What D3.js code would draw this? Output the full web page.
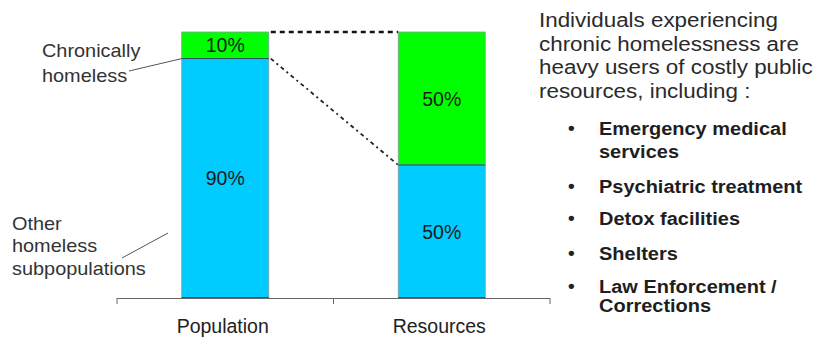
<!DOCTYPE html>
<html><head><meta charset="utf-8">
<script src="https://cdn.jsdelivr.net/npm/d3@7"></script>
<style>
body{margin:0;background:#fff;}
svg{display:block;font-family:"Liberation Sans",Arial,sans-serif;}
</style></head>
<body>
<svg id="c" width="819" height="337"></svg>
<script>
const categories = ["Population", "Resources"];
const otherValues = [90, 50];
const chronicValues = [10, 50];
const seriesNames = ["Other homeless subpopulations", "Chronically homeless"];
const headline = ["Individuals experiencing", "chronic homelessness are", "heavy users of costly public", "resources, including :"];
const bullets = [["Emergency medical", "services"], ["Psychiatric treatment"], ["Detox facilities"], ["Shelters"], ["Law Enforcement /", "Corrections"]];

const svg = d3.select("#c");
const x = d3.scaleBand().domain(categories).range([117, 550]).paddingInner(0.598).paddingOuter(0.299);
const y = d3.scaleLinear().domain([0, 100]).range([298, 32]);
const colors = ["#00ccff", "#00ff00"];

const data = categories.map((c, i) => ({cat: c, other: otherValues[i], chronic: chronicValues[i]}));
const stack = d3.stack().keys(["other", "chronic"])(data);

// connector lines
const xr0 = x(categories[0]) + x.bandwidth();
const xl1 = x(categories[1]);
svg.append("line").attr("x1", xr0 + 2).attr("x2", xl1)
  .attr("y1", y(100)).attr("y2", y(100))
  .attr("stroke", "#111").attr("stroke-width", 2.4).attr("stroke-dasharray", "5,4");
svg.append("line").attr("x1", xr0 + 2).attr("x2", xl1)
  .attr("y1", y(otherValues[0])).attr("y2", y(otherValues[1]))
  .attr("stroke", "#222").attr("stroke-width", 1.8).attr("stroke-dasharray", "4,3.5,2,3.5");

// bars
stack.forEach((s, si) => {
  svg.append("g").selectAll("rect").data(s).join("rect")
    .attr("x", d => x(d.data.cat))
    .attr("width", x.bandwidth())
    .attr("y", d => y(d[1]))
    .attr("height", d => y(d[0]) - y(d[1]))
    .attr("fill", colors[si])
    .attr("stroke", "#8a9aa0").attr("stroke-width", 0.8);
  svg.append("g").selectAll("text").data(s).join("text")
    .attr("x", d => x(d.data.cat) + x.bandwidth() / 2)
    .attr("y", d => (y(d[0]) + y(d[1])) / 2)
    .attr("dy", "0.36em")
    .attr("text-anchor", "middle")
    .attr("font-size", 19.5).attr("fill", "#1a1a1a")
    .text(d => (d[1] - d[0]) + "%");
});
// dark segment boundaries
svg.append("g").selectAll("line").data(data).join("line")
  .attr("x1", d => x(d.cat)).attr("x2", d => x(d.cat) + x.bandwidth())
  .attr("y1", d => y(d.other)).attr("y2", d => y(d.other))
  .attr("stroke", "#2a4a60").attr("stroke-width", 1);
svg.append("g").selectAll("line").data(data).join("line")
  .attr("x1", d => x(d.cat)).attr("x2", d => x(d.cat) + x.bandwidth())
  .attr("y1", y(0)).attr("y2", y(0))
  .attr("stroke", "#1a3a6a").attr("stroke-width", 1.5);

// axis
const axisG = svg.append("g");
axisG.append("line").attr("x1", 117).attr("x2", 550).attr("y1", 298.5).attr("y2", 298.5)
  .attr("stroke", "#666").attr("stroke-width", 1.2);
const tickXs = [x.range()[0], (x(categories[0]) + x.bandwidth() + x(categories[1])) / 2, x.range()[1]];
axisG.selectAll("line.t").data(tickXs).join("line").attr("class", "t")
  .attr("x1", d => d).attr("x2", d => d).attr("y1", 298).attr("y2", 304)
  .attr("stroke", "#666").attr("stroke-width", 1);
axisG.selectAll("text").data(categories).join("text")
  .attr("x", d => x(d) + x.bandwidth() / 2 - 2.5)
  .attr("y", 333)
  .attr("text-anchor", "middle").attr("font-size", 19.5).attr("fill", "#222")
  .text(d => d);

// stretched multi-line text
function multi(lines, x0, ys, size, sx, weight, fill) {
  const t = svg.append("text").attr("transform", `translate(${x0},0) scale(${sx},1)`)
    .attr("font-size", size).attr("fill", fill || "#333").attr("font-weight", weight || "normal");
  lines.forEach((l, i) => t.append("tspan").attr("x", 0).attr("y", ys[i]).text(l));
  return t;
}
multi(["Chronically", "homeless"], 42, [57, 82], 18.6, 1.07);
svg.append("line").attr("x1", 129).attr("y1", 71).attr("x2", x(categories[0])).attr("y2", y(otherValues[0]))
  .attr("stroke", "#555").attr("stroke-width", 1);
multi(["Other", "homeless", "subpopulations"], 12, [230, 252.5, 275], 18.6, 1.07);
svg.append("line").attr("x1", 122).attr("y1", 258).attr("x2", 168).attr("y2", 233)
  .attr("stroke", "#555").attr("stroke-width", 1);

// right text
multi(headline, 539, [27, 51, 74.5, 98.5], 19.3, 1.16, "normal", "#2a2a2a");
const bulletYs = [[135, 158], [193], [225], [260], [293, 312]];
bullets.forEach((b, i) => {
  svg.append("text").attr("x", 568).attr("y", bulletYs[i][0] - 1).attr("font-size", 19).attr("font-weight", "bold").attr("fill", "#222").text("•");
  multi(b, 599, bulletYs[i], 18.6, 1.075, "bold", "#1e1e1e");
});
</script>
</body></html>
